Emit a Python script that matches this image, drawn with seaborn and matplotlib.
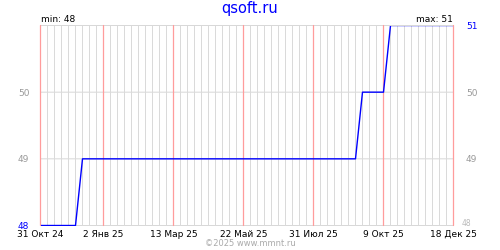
import matplotlib
matplotlib.use("Agg")
import matplotlib.pyplot as plt
import seaborn as sns
import pandas as pd

title = "qsoft.ru"
start_date = "2024-10-31"
n_weeks = 60
values = [48, 48, 48, 48, 48, 48,
          49, 49, 49, 49, 49, 49, 49, 49, 49, 49,
          49, 49, 49, 49, 49, 49, 49, 49, 49, 49,
          49, 49, 49, 49, 49, 49, 49, 49, 49, 49,
          49, 49, 49, 49, 49, 49, 49, 49, 49, 49,
          50, 50, 50, 50,
          51, 51, 51, 51, 51, 51, 51, 51, 51, 51]
tick_dates = ["2024-10-31", "2025-01-02", "2025-03-13", "2025-05-22",
              "2025-07-31", "2025-10-09", "2025-12-18"]
tick_labels = ["31 Окт 24", "2 Янв 25", "13 Мар 25", "22 Май 25",
               "31 Июл 25", "9 Окт 25", "18 Дек 25"]
y_ticks = [48, 49, 50, 51]

dates = pd.date_range(start_date, periods=n_weeks, freq="7D")
df = pd.DataFrame({"date": dates, "value": values})

sns.set_theme(style="white")
plt.rcParams["font.family"] = ["DejaVu Sans"]

fig = plt.figure(figsize=(5, 2.5), dpi=100)
ax = fig.add_axes([40.5 / 500, 24.5 / 250, 413 / 500, 200 / 250])

tdates = pd.to_datetime(tick_dates)
ymin, ymax = min(y_ticks), max(y_ticks)
gray_dates = dates[~dates.isin(tdates)]

for y in y_ticks:
    ax.axhline(y, color="#d8d8d8", linewidth=0.72, zorder=1, clip_on=False,
               snap=False)
for d in gray_dates:
    ax.axvline(d, color="#dadada", linewidth=0.72, zorder=1, snap=False)
for d in tdates:
    ax.axvline(d, color="#ff9c9c", linewidth=0.9, zorder=2, clip_on=False,
               snap=False)

sns.lineplot(data=df, x="date", y="value", ax=ax, color="#0000ff",
             linewidth=1.0, zorder=5)

ax.set_xlim(tdates[0], tdates[-1])
ax.set_ylim(ymin, ymax)
ax.set_xticks(tdates)
ax.set_xticklabels(tick_labels, fontsize=6.5, color="black")
ax.tick_params(axis="x", which="both", length=0, pad=3)
ax.grid(False)

ax.set_yticks(y_ticks)
ax.set_yticklabels(["48", "49", "50", ""], fontsize=6.5)
left_colors = ["#0000ff", "#999999", "#999999", "#999999"]
for lab, c in zip(ax.get_yticklabels(), left_colors):
    lab.set_color(c)
ax.tick_params(axis="y", length=0, pad=8)
ax.set_xlabel("")
ax.set_ylabel("")
for s in ax.spines.values():
    s.set_visible(False)

ax2 = ax.twinx()
ax2.set_ylim(ymin, ymax)
ax2.set_yticks(y_ticks)
ax2.set_yticklabels(["", "49", "50", "51"], fontsize=6.5)
right_colors = ["#999999", "#999999", "#999999", "#0000ff"]
for lab, c in zip(ax2.get_yticklabels(), right_colors):
    lab.set_color(c)
ax2.tick_params(axis="y", length=0, pad=9)
ax2.grid(False)
for s in ax2.spines.values():
    s.set_visible(False)

fig.text(462 / 500, 1 - 223 / 250, "48", fontsize=5.5, color="#bbbbbb",
         ha="left", va="center")
fig.text(0.5, 1 - 9 / 250, title, fontsize=10.5, color="#0000ff",
         ha="center", va="center")
fig.text(41 / 500, 1 - 19.5 / 250, "min: " + str(min(values)), fontsize=6.5,
         color="black", ha="left", va="center")
fig.text(453 / 500, 1 - 19.5 / 250, "max: " + str(max(values)), fontsize=6.5,
         color="black", ha="right", va="center")
fig.text(250 / 500, 1 - 243.5 / 250, "©2025 www.mmnt.ru", fontsize=6,
         color="#aaaaaa", ha="center", va="center")

fig.savefig("out.png", dpi=100, facecolor="white")
